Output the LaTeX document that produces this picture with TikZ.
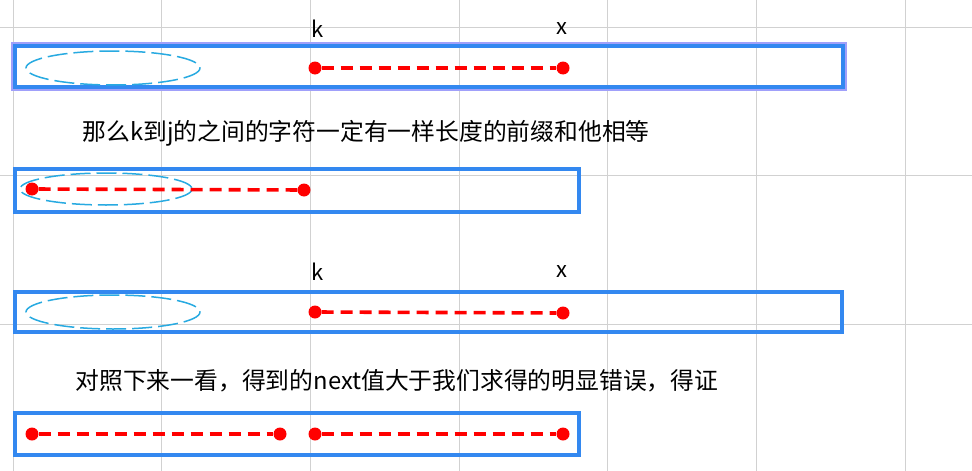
\documentclass[tikz,border=0pt]{standalone}
\usepackage{fontspec}
\setmainfont{Noto Sans CJK SC}
\begin{document}
\begin{tikzpicture}[x=1pt,y=-1pt,
  grid/.style={draw=black!18,line width=0.9pt},
  bar/.style={draw={rgb,255:red,51;green,136;blue,240},line width=3.4pt},
  ell/.style={draw={rgb,255:red,40;green,170;blue,225},dash pattern=on 20pt off 6pt,line width=1.5pt},
  seg/.style={draw=red,line width=3.6pt,dash pattern=on 12pt off 7pt},
  dot/.style={circle,fill=red,inner sep=0pt,minimum size=13pt},
  lbl/.style={font=\fontsize{22}{26}\selectfont},
  txt/.style={font=\fontsize{23.8}{28}\selectfont,anchor=west}]
\useasboundingbox (0,0) rectangle (972,471);
\fill[white] (0,0) rectangle (972,471);
\foreach \x in {13,161,310,459,607,756,905} \draw[grid] (\x,0) -- (\x,471);
\foreach \y in {27,175,324} \draw[grid] (0,\y) -- (972,\y);
% row 1
\draw[draw={rgb,255:red,160;green,160;blue,250},line width=1.5pt] (12,43) rectangle (846,90);
\draw[bar] (15,46) rectangle (843,87);
\draw[ell] (113,68) ellipse [x radius=87, y radius=17];
\node[dot] (a1) at (315,68) {};
\node[dot] (b1) at (563,68) {};
\draw[seg] (a1) -- (b1);
\node[lbl] (k1) at (318,29) {k};
\node[lbl] (x1) at (562,29) {x};
\node[txt] (t1) at (79,133) {那么k到j的之间的字符一定有一样长度的前缀和他相等};
% row 2
\draw[bar] (15,169) rectangle (579,212);
\draw[ell] (106,189) ellipse [x radius=86, y radius=16];
\node[dot] (a2) at (32,189) {};
\node[dot] (b2) at (304,190) {};
\draw[seg] (a2) -- (b2);
% row 3
\draw[bar] (15,292) rectangle (842,332);
\draw[ell] (113,312) ellipse [x radius=87, y radius=17];
\node[dot] (a3) at (315,312) {};
\node[dot] (b3) at (563,313) {};
\draw[seg] (a3) -- (b3);
\node[lbl] (k3) at (318,272) {k};
\node[lbl] (x3) at (562,272) {x};
\node[txt] (t2) at (72,381) {对照下来一看，得到的next值大于我们求得的明显错误，得证};
% row 4
\draw[bar] (15,413) rectangle (579,455);
\node[dot] (a4) at (32,434) {};
\node[dot] (b4) at (280,434) {};
\node[dot] (c4) at (315,434) {};
\node[dot] (d4) at (563,434) {};
\draw[seg] (a4) -- (b4);
\draw[seg] (c4) -- (d4);
\end{tikzpicture}
\end{document}
